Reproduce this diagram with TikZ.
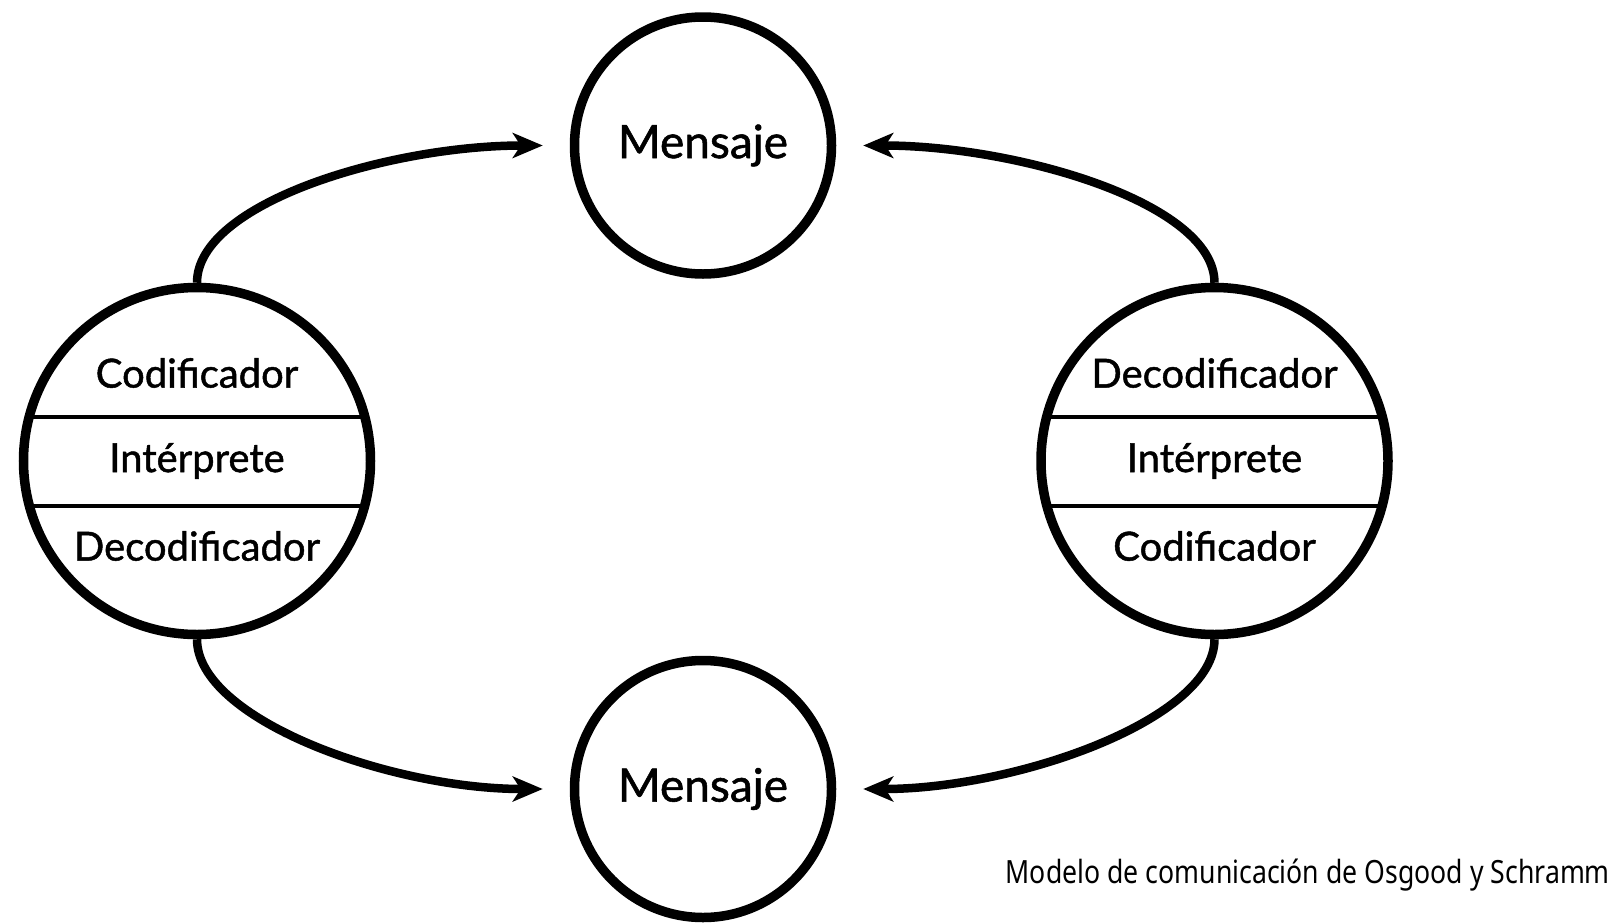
\documentclass[tikz,border=0pt]{standalone}
\usepackage{fontspec}
\setmainfont{Lato}
\newfontfamily\lblfont{Lato}[FakeBold=1.2]
\newfontfamily\capfont{Noto Sans}
\usetikzlibrary{arrows.meta}
\tikzset{
  msgnode/.style={circle, draw, line width=9.5pt, minimum size=257pt, inner sep=0pt,
    font=\lblfont\fontsize{46}{56}\selectfont},
  agentnode/.style={circle, draw, line width=9.5pt, minimum size=347pt, inner sep=0pt},
  rowtext/.style={font=\lblfont\fontsize{40}{50}\selectfont, inner sep=0pt},
  divider/.style={line width=4.5pt},
  flow/.style={line width=8.5pt, -{Stealth[length=30pt,width=25pt,inset=8pt]}, shorten >=27pt},
}
\begin{document}
\begin{tikzpicture}[x=1pt,y=-1pt]
\useasboundingbox[fill=white] (0,0) rectangle (1618,924);
\node[msgnode] (M1) at (703,145.5) {Mensaje};
\node[msgnode] (M2) at (703,789) {Mensaje};
\node[agentnode] (L) at (197,461) {};
\node[agentnode] (R) at (1214.5,461) {};
% left rows
\node[rowtext] (L1) at (197,373) {Codificador};
\node[rowtext] (L2) at (197,461) {Intérprete};
\node[rowtext] (L3) at (197,546) {Decodificador};
\node[rowtext] (R1) at (1214.5,373) {Decodificador};
\node[rowtext] (R2) at (1214.5,461) {Intérprete};
\node[rowtext] (R3) at (1214.5,546) {Codificador};
% dividers
\begin{scope}
\clip (L) circle (173pt);
\draw[divider] (20,417) -- (374,417);
\draw[divider] (20,506) -- (374,506);
\end{scope}
\begin{scope}
\clip (R) circle (173pt);
\draw[divider] (1038,417) -- (1392,417);
\draw[divider] (1038,506) -- (1392,506);
\end{scope}
% arrows
\draw[flow] (L.north) .. controls +(0,-80) and +(-180,0) .. (M1.west);
\draw[flow] (R.north) .. controls +(0,-80) and +(180,0) .. (M1.east);
\draw[flow] (L.south) .. controls +(0,80) and +(-180,0) .. (M2.west);
\draw[flow] (R.south) .. controls +(0,80) and +(180,0) .. (M2.east);
% caption
\node[anchor=east, inner sep=0pt, font=\capfont\fontsize{32}{38}\selectfont] (cap) at (1610,875)
  {\resizebox{604pt}{\height}{Modelo de comunicación de Osgood y Schramm}};
\end{tikzpicture}
\end{document}
